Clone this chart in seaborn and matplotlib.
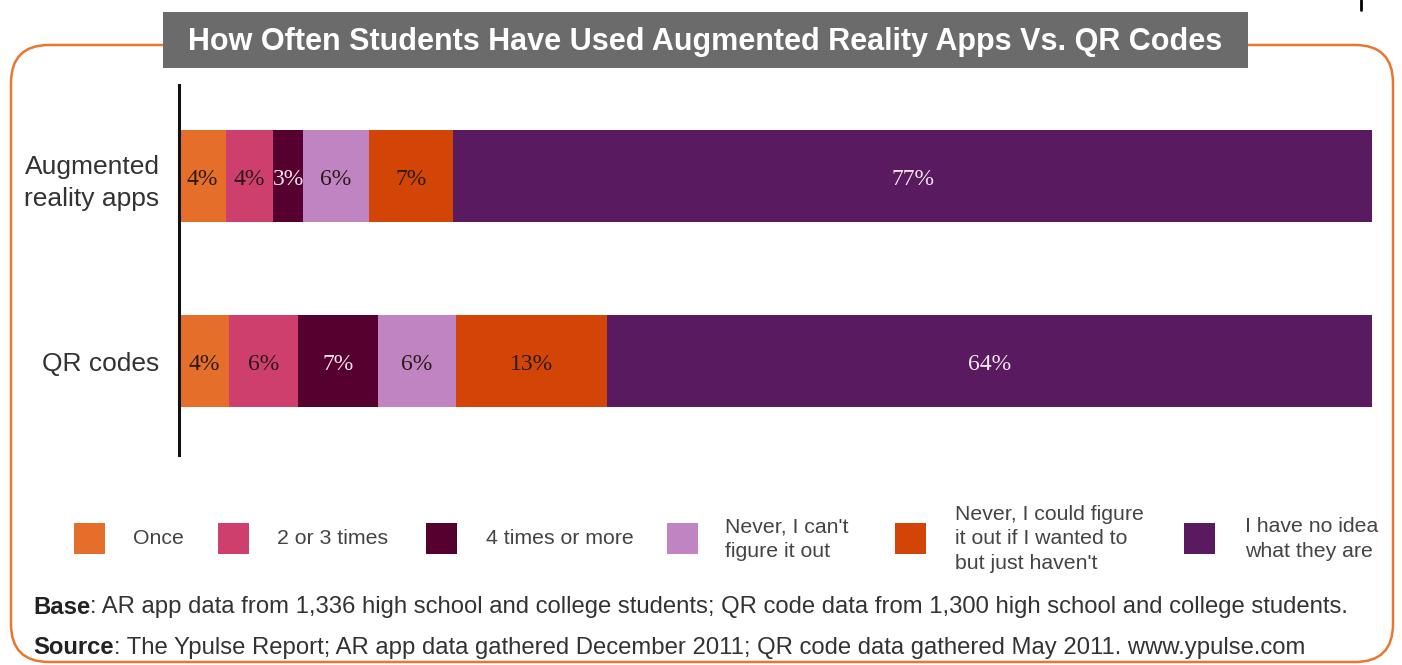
import matplotlib
matplotlib.use("Agg")
import matplotlib.pyplot as plt
from matplotlib.patches import Rectangle, FancyBboxPatch
from matplotlib.lines import Line2D
from matplotlib.transforms import IdentityTransform
import seaborn as sns
import pandas as pd
import numpy as np

# ---- data ----
groups = ["Augmented\nreality apps", "QR codes"]
segments = ["Once", "2 or 3 times", "4 times or more", "Never, I can't\nfigure it out",
            "Never, I could figure\nit out if I wanted to\nbut just haven't",
            "I have no idea\nwhat they are"]
ar_values = [3.9, 4.0, 2.5, 5.5, 7.1, 77.0]
qr_values = [4.2, 5.8, 6.7, 6.5, 12.7, 64.1]
ar_labels = ["4%", "4%", "3%", "6%", "7%", "77%"]
qr_labels = ["4%", "6%", "7%", "6%", "13%", "64%"]
colors = ["#E56F2A", "#CF3F6E", "#560030", "#C184C3", "#D34507", "#5A1A60"]
label_colors = ["#2b1a14", "#2b1a14", "#f3e6ee", "#2b1a14", "#2b1a14", "#f3e6ee"]
title = "How Often Students Have Used Augmented Reality Apps Vs. QR Codes"
base_note = ("Base", ": AR app data from 1,336 high school and college students; QR code data from 1,300 high school and college students.")
source_note = ("Source", ": The Ypulse Report; AR app data gathered December 2011; QR code data gathered May 2011. www.ypulse.com")

W, H = 1402, 665
sns.set_theme(style="white")
plt.rcParams["font.family"] = ["Liberation Sans", "DejaVu Sans"]

fig = plt.figure(figsize=(W / 100, H / 100), dpi=100)
fig.patch.set_facecolor("white")

# long-form data with cumulative sums
rows = []
for g, vals, labs in [(groups[0], ar_values, ar_labels), (groups[1], qr_values, qr_labels)]:
    cum = np.cumsum(vals)
    for i, s in enumerate(segments):
        rows.append(dict(group=g, segment=s, value=vals[i], cum=cum[i], label=labs[i], idx=i))
df = pd.DataFrame(rows)

def fx(px):
    return px / W

def fy(py):
    return 1 - py / H

ax = fig.add_axes([fx(179), fy(455), fx(1372) - fx(179), (455 - 85) / H])
for i in reversed(range(len(segments))):
    sub = df[df["idx"] == i]
    sns.barplot(data=sub, x="cum", y="group", order=groups, orient="h",
                color=colors[i], saturation=1, width=0.5, errorbar=None,
                edgecolor="none", linewidth=0, ax=ax)

for _, r in df.iterrows():
    yi = groups.index(r["group"])
    ax.text(r["cum"] - r["value"] / 2, yi + 0.02, r["label"], ha="center", va="center",
            fontsize=17, family=["Liberation Serif", "DejaVu Serif"],
            color=label_colors[r["idx"]])

ax.set_xlim(0, 100)
ax.set_ylim(1.508, -0.492)
ax.set_xlabel("")
ax.set_ylabel("")
ax.set_xticks([])
for s in ["top", "right", "bottom"]:
    ax.spines[s].set_visible(False)
ax.spines["left"].set_color("#111111")
ax.spines["left"].set_linewidth(2.2)
ax.tick_params(axis="y", length=0, pad=14, labelsize=19, labelcolor="#333333")
for t in ax.get_yticklabels():
    t.set_linespacing(1.45)
ax.set_facecolor("white")

# orange rounded border (pixel coords, origin bottom-left)
border = FancyBboxPatch((11, H - 662), 1393 - 11, 662 - 45,
                        boxstyle="round,pad=0,rounding_size=38",
                        transform=IdentityTransform(), fill=False,
                        edgecolor="#E8772F", linewidth=1.8, zorder=0)
fig.add_artist(border)

# title box
fig.add_artist(Rectangle((fx(163), fy(68)), fx(1248) - fx(163), (68 - 12) / H,
                         transform=fig.transFigure, facecolor="#6B6B6B",
                         edgecolor="none", zorder=2))
fig.text(fx(705), fy(42), title, ha="center", va="center", color="white",
         fontsize=22, fontweight="bold", zorder=3)

# little black tick top right
fig.add_artist(Line2D([fx(1361), fx(1361)], [fy(0), fy(10)], color="black",
                      linewidth=2, transform=fig.transFigure))

# legend
sq_x = [74, 218, 426, 667, 895, 1184]
tx_x = [133, 277, 486, 725, 955, 1245]
for i, s in enumerate(segments):
    fig.add_artist(Rectangle((fx(sq_x[i]), fy(554)), 31 / W, 31 / H,
                             transform=fig.transFigure, facecolor=colors[i],
                             edgecolor="none"))
    fig.text(fx(tx_x[i]), fy(539), s, ha="left", va="center", fontsize=15.3,
             color="#444444", linespacing=1.38)

# footnotes with bold lead word
fig.canvas.draw()
renderer = fig.canvas.get_renderer()
for (bold, rest), ypx in [(base_note, 607), (source_note, 648)]:
    t1 = fig.text(fx(33), fy(ypx), bold, ha="left", va="center", fontsize=17.2,
                  fontweight="bold", color="#222222")
    bb = t1.get_window_extent(renderer)
    fig.text(bb.x1 / W, fy(ypx), rest, ha="left", va="center", fontsize=17.2,
             color="#333333")

fig.savefig("out.png", dpi=100, facecolor="white")
